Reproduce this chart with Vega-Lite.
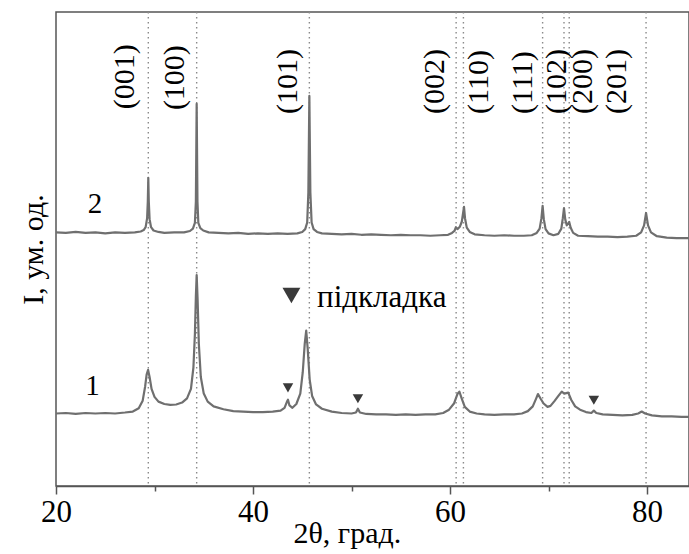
{
  "$schema": "https://vega.github.io/schema/vega-lite/v6.json",
  "autosize": "none",
  "width": 633,
  "height": 474,
  "padding": {"left": 56, "top": 12, "right": 0, "bottom": 68},
  "background": "white",
  "config": {
    "view": {"stroke": "#555", "strokeWidth": 1.5},
    "font": "Liberation Serif"
  },
  "datasets": {
    "scan": [
      {"s": "2", "x": 20.0, "y": 53.5}, {"s": "2", "x": 21.0, "y": 53.4}, {"s": "2", "x": 22.0, "y": 53.6}, {"s": "2", "x": 23.0, "y": 53.4},
      {"s": "2", "x": 24.0, "y": 53.5}, {"s": "2", "x": 25.0, "y": 53.3}, {"s": "2", "x": 26.0, "y": 53.5}, {"s": "2", "x": 27.0, "y": 53.4},
      {"s": "2", "x": 28.0, "y": 53.5}, {"s": "2", "x": 28.6, "y": 53.7}, {"s": "2", "x": 28.9, "y": 54.0}, {"s": "2", "x": 29.1, "y": 54.6},
      {"s": "2", "x": 29.25, "y": 56.5}, {"s": "2", "x": 29.32, "y": 60.0}, {"s": "2", "x": 29.37, "y": 65.0}, {"s": "2", "x": 29.42, "y": 60.0},
      {"s": "2", "x": 29.5, "y": 56.3}, {"s": "2", "x": 29.65, "y": 54.6}, {"s": "2", "x": 29.9, "y": 53.9}, {"s": "2", "x": 30.4, "y": 53.6},
      {"s": "2", "x": 31.0, "y": 53.4}, {"s": "2", "x": 32.0, "y": 53.5}, {"s": "2", "x": 33.0, "y": 53.5}, {"s": "2", "x": 33.6, "y": 53.8},
      {"s": "2", "x": 33.9, "y": 54.3}, {"s": "2", "x": 34.1, "y": 55.5}, {"s": "2", "x": 34.2, "y": 60.0}, {"s": "2", "x": 34.28, "y": 80.6},
      {"s": "2", "x": 34.36, "y": 60.0}, {"s": "2", "x": 34.45, "y": 55.5}, {"s": "2", "x": 34.65, "y": 54.4}, {"s": "2", "x": 34.95, "y": 53.9},
      {"s": "2", "x": 35.5, "y": 53.5}, {"s": "2", "x": 36.5, "y": 53.4}, {"s": "2", "x": 37.5, "y": 53.3}, {"s": "2", "x": 38.5, "y": 53.4},
      {"s": "2", "x": 39.5, "y": 53.2}, {"s": "2", "x": 40.5, "y": 53.3}, {"s": "2", "x": 41.5, "y": 53.2}, {"s": "2", "x": 42.5, "y": 53.3},
      {"s": "2", "x": 43.5, "y": 53.2}, {"s": "2", "x": 44.5, "y": 53.3}, {"s": "2", "x": 45.0, "y": 53.6}, {"s": "2", "x": 45.3, "y": 54.2},
      {"s": "2", "x": 45.5, "y": 55.6}, {"s": "2", "x": 45.62, "y": 62.0}, {"s": "2", "x": 45.72, "y": 82.3}, {"s": "2", "x": 45.82, "y": 62.0},
      {"s": "2", "x": 45.95, "y": 55.6}, {"s": "2", "x": 46.15, "y": 54.2}, {"s": "2", "x": 46.5, "y": 53.6}, {"s": "2", "x": 47.0, "y": 53.3},
      {"s": "2", "x": 48.0, "y": 53.2}, {"s": "2", "x": 49.0, "y": 53.1}, {"s": "2", "x": 50.0, "y": 53.2}, {"s": "2", "x": 51.0, "y": 53.0},
      {"s": "2", "x": 52.0, "y": 53.1}, {"s": "2", "x": 53.0, "y": 53.0}, {"s": "2", "x": 54.0, "y": 52.9}, {"s": "2", "x": 55.0, "y": 53.0},
      {"s": "2", "x": 56.0, "y": 52.9}, {"s": "2", "x": 57.0, "y": 52.9}, {"s": "2", "x": 58.0, "y": 52.8}, {"s": "2", "x": 59.0, "y": 52.9},
      {"s": "2", "x": 59.8, "y": 53.0}, {"s": "2", "x": 60.2, "y": 53.4}, {"s": "2", "x": 60.45, "y": 53.8}, {"s": "2", "x": 60.6, "y": 54.6},
      {"s": "2", "x": 60.75, "y": 54.2}, {"s": "2", "x": 61.0, "y": 54.7}, {"s": "2", "x": 61.2, "y": 55.8}, {"s": "2", "x": 61.32, "y": 57.5},
      {"s": "2", "x": 61.42, "y": 58.9}, {"s": "2", "x": 61.52, "y": 56.5}, {"s": "2", "x": 61.7, "y": 54.5}, {"s": "2", "x": 62.0, "y": 53.6},
      {"s": "2", "x": 62.5, "y": 53.1}, {"s": "2", "x": 63.5, "y": 52.9}, {"s": "2", "x": 64.5, "y": 52.8}, {"s": "2", "x": 65.5, "y": 52.9},
      {"s": "2", "x": 66.5, "y": 52.8}, {"s": "2", "x": 67.5, "y": 52.8}, {"s": "2", "x": 68.3, "y": 52.9}, {"s": "2", "x": 68.8, "y": 53.4},
      {"s": "2", "x": 69.1, "y": 54.3}, {"s": "2", "x": 69.28, "y": 56.5}, {"s": "2", "x": 69.4, "y": 59.1}, {"s": "2", "x": 69.52, "y": 56.3},
      {"s": "2", "x": 69.7, "y": 54.2}, {"s": "2", "x": 70.0, "y": 53.3}, {"s": "2", "x": 70.5, "y": 52.9}, {"s": "2", "x": 71.0, "y": 53.2},
      {"s": "2", "x": 71.3, "y": 54.3}, {"s": "2", "x": 71.45, "y": 56.5}, {"s": "2", "x": 71.57, "y": 58.6}, {"s": "2", "x": 71.7, "y": 56.2},
      {"s": "2", "x": 71.85, "y": 55.0}, {"s": "2", "x": 72.0, "y": 55.4}, {"s": "2", "x": 72.1, "y": 55.7}, {"s": "2", "x": 72.25, "y": 54.5},
      {"s": "2", "x": 72.5, "y": 53.4}, {"s": "2", "x": 73.0, "y": 52.8}, {"s": "2", "x": 74.0, "y": 52.7}, {"s": "2", "x": 75.0, "y": 52.6},
      {"s": "2", "x": 76.0, "y": 52.6}, {"s": "2", "x": 77.0, "y": 52.5}, {"s": "2", "x": 78.0, "y": 52.6}, {"s": "2", "x": 78.9, "y": 52.8},
      {"s": "2", "x": 79.4, "y": 53.5}, {"s": "2", "x": 79.7, "y": 55.0}, {"s": "2", "x": 79.9, "y": 57.6}, {"s": "2", "x": 80.1, "y": 55.0},
      {"s": "2", "x": 80.4, "y": 53.5}, {"s": "2", "x": 81.0, "y": 52.7}, {"s": "2", "x": 82.0, "y": 52.4}, {"s": "2", "x": 83.0, "y": 52.3},
      {"s": "2", "x": 84.3, "y": 52.3},

      {"s": "1", "x": 20.0, "y": 15.3}, {"s": "1", "x": 21.0, "y": 15.4}, {"s": "1", "x": 22.0, "y": 15.2}, {"s": "1", "x": 23.0, "y": 15.4},
      {"s": "1", "x": 24.0, "y": 15.3}, {"s": "1", "x": 25.0, "y": 15.4}, {"s": "1", "x": 26.0, "y": 15.3}, {"s": "1", "x": 27.0, "y": 15.5},
      {"s": "1", "x": 27.8, "y": 15.7}, {"s": "1", "x": 28.4, "y": 16.4}, {"s": "1", "x": 28.8, "y": 18.0}, {"s": "1", "x": 29.05, "y": 21.0},
      {"s": "1", "x": 29.2, "y": 23.5}, {"s": "1", "x": 29.35, "y": 24.5}, {"s": "1", "x": 29.5, "y": 23.0}, {"s": "1", "x": 29.7, "y": 20.5},
      {"s": "1", "x": 30.0, "y": 18.8}, {"s": "1", "x": 30.4, "y": 17.8}, {"s": "1", "x": 31.0, "y": 17.3}, {"s": "1", "x": 31.6, "y": 17.1},
      {"s": "1", "x": 32.2, "y": 17.2}, {"s": "1", "x": 32.8, "y": 17.6}, {"s": "1", "x": 33.3, "y": 18.5}, {"s": "1", "x": 33.7, "y": 20.5},
      {"s": "1", "x": 33.95, "y": 25.0}, {"s": "1", "x": 34.1, "y": 32.0}, {"s": "1", "x": 34.2, "y": 40.0}, {"s": "1", "x": 34.28, "y": 44.5},
      {"s": "1", "x": 34.38, "y": 39.0}, {"s": "1", "x": 34.5, "y": 30.0}, {"s": "1", "x": 34.7, "y": 23.0}, {"s": "1", "x": 35.0, "y": 19.5},
      {"s": "1", "x": 35.4, "y": 17.8}, {"s": "1", "x": 36.0, "y": 16.8}, {"s": "1", "x": 37.0, "y": 16.2}, {"s": "1", "x": 38.0, "y": 15.8},
      {"s": "1", "x": 39.0, "y": 15.7}, {"s": "1", "x": 40.0, "y": 15.6}, {"s": "1", "x": 41.0, "y": 15.6}, {"s": "1", "x": 42.0, "y": 15.7},
      {"s": "1", "x": 42.8, "y": 15.9}, {"s": "1", "x": 43.2, "y": 16.5}, {"s": "1", "x": 43.45, "y": 17.8}, {"s": "1", "x": 43.55, "y": 18.2},
      {"s": "1", "x": 43.7, "y": 17.0}, {"s": "1", "x": 44.0, "y": 16.5}, {"s": "1", "x": 44.4, "y": 17.3}, {"s": "1", "x": 44.8, "y": 19.5},
      {"s": "1", "x": 45.05, "y": 24.0}, {"s": "1", "x": 45.25, "y": 30.0}, {"s": "1", "x": 45.4, "y": 32.8}, {"s": "1", "x": 45.55, "y": 29.0},
      {"s": "1", "x": 45.75, "y": 22.5}, {"s": "1", "x": 46.0, "y": 19.0}, {"s": "1", "x": 46.4, "y": 17.2}, {"s": "1", "x": 47.0, "y": 16.3},
      {"s": "1", "x": 48.0, "y": 15.7}, {"s": "1", "x": 49.0, "y": 15.4}, {"s": "1", "x": 50.0, "y": 15.3}, {"s": "1", "x": 50.45, "y": 15.5},
      {"s": "1", "x": 50.65, "y": 16.3}, {"s": "1", "x": 50.85, "y": 15.5}, {"s": "1", "x": 51.5, "y": 15.2}, {"s": "1", "x": 52.5, "y": 15.1},
      {"s": "1", "x": 53.5, "y": 15.1}, {"s": "1", "x": 54.5, "y": 15.0}, {"s": "1", "x": 55.5, "y": 15.1}, {"s": "1", "x": 56.5, "y": 15.0},
      {"s": "1", "x": 57.5, "y": 15.1}, {"s": "1", "x": 58.5, "y": 15.1}, {"s": "1", "x": 59.3, "y": 15.4}, {"s": "1", "x": 59.9, "y": 16.1},
      {"s": "1", "x": 60.4, "y": 17.4}, {"s": "1", "x": 60.75, "y": 19.4}, {"s": "1", "x": 60.95, "y": 19.9}, {"s": "1", "x": 61.2, "y": 18.4},
      {"s": "1", "x": 61.5, "y": 16.7}, {"s": "1", "x": 62.0, "y": 15.7}, {"s": "1", "x": 62.7, "y": 15.3}, {"s": "1", "x": 63.5, "y": 15.1},
      {"s": "1", "x": 64.5, "y": 15.0}, {"s": "1", "x": 65.5, "y": 15.1}, {"s": "1", "x": 66.5, "y": 15.1}, {"s": "1", "x": 67.3, "y": 15.3},
      {"s": "1", "x": 67.9, "y": 15.8}, {"s": "1", "x": 68.4, "y": 16.8}, {"s": "1", "x": 68.75, "y": 18.5}, {"s": "1", "x": 68.93, "y": 19.4},
      {"s": "1", "x": 69.2, "y": 18.4}, {"s": "1", "x": 69.5, "y": 17.4}, {"s": "1", "x": 69.9, "y": 16.7}, {"s": "1", "x": 70.2, "y": 16.9},
      {"s": "1", "x": 70.6, "y": 17.9}, {"s": "1", "x": 71.0, "y": 19.0}, {"s": "1", "x": 71.34, "y": 19.9}, {"s": "1", "x": 71.6, "y": 19.5},
      {"s": "1", "x": 72.0, "y": 19.7}, {"s": "1", "x": 72.3, "y": 18.2}, {"s": "1", "x": 72.7, "y": 16.8}, {"s": "1", "x": 73.2, "y": 16.1},
      {"s": "1", "x": 73.8, "y": 15.6}, {"s": "1", "x": 74.35, "y": 15.4}, {"s": "1", "x": 74.6, "y": 15.9}, {"s": "1", "x": 74.85, "y": 15.4},
      {"s": "1", "x": 75.5, "y": 15.1}, {"s": "1", "x": 76.5, "y": 15.0}, {"s": "1", "x": 77.5, "y": 14.9}, {"s": "1", "x": 78.5, "y": 15.0},
      {"s": "1", "x": 79.1, "y": 15.3}, {"s": "1", "x": 79.46, "y": 15.7}, {"s": "1", "x": 79.8, "y": 15.3}, {"s": "1", "x": 80.5, "y": 14.9},
      {"s": "1", "x": 81.5, "y": 14.7}, {"s": "1", "x": 82.5, "y": 14.7}, {"s": "1", "x": 83.5, "y": 14.6}, {"s": "1", "x": 84.3, "y": 14.6}
    ],
    "reflections": [
      {"peak": 29.37, "hkl": "(001)", "lx": 27.0, "ly": 79.5},
      {"peak": 34.28, "hkl": "(100)", "lx": 32.1, "ly": 79.3},
      {"peak": 45.72, "hkl": "(101)", "lx": 43.55, "ly": 78.5},
      {"peak": 60.62, "hkl": "(002)", "lx": 58.5, "ly": 78.5},
      {"peak": 61.36, "hkl": "(110)", "lx": 62.9, "ly": 78.5},
      {"peak": 69.4, "hkl": "(111)", "lx": 67.4, "ly": 78.5},
      {"peak": 71.57, "hkl": "(102)", "lx": 70.9, "ly": 78.5},
      {"peak": 72.1, "hkl": "(200)", "lx": 73.5, "ly": 78.5},
      {"peak": 79.9, "hkl": "(201)", "lx": 77.0, "ly": 78.5}
    ],
    "substrate": [
      {"x": 43.55, "y": 20.7},
      {"x": 50.65, "y": 18.4},
      {"x": 74.6, "y": 18.1}
    ],
    "curveNames": [
      {"x": 23.96, "y": 57.6, "name": "2"},
      {"x": 23.7, "y": 19.2, "name": "1"}
    ],
    "key": [
      {"x": 43.9, "y": 40.2, "tx": 46.5, "ty": 37.8, "name": "підкладка"}
    ]
  },
  "encoding": {
    "x": {"type": "quantitative"},
    "y": {"type": "quantitative"}
  },
  "layer": [
    {
      "data": {"name": "reflections"},
      "mark": {"type": "rule", "color": "#8a8a8a", "strokeWidth": 1.4, "strokeDash": [1.5, 3.5]},
      "encoding": {
        "x": {
          "field": "peak", "type": "quantitative",
          "scale": {"domain": [20, 84.26], "nice": false, "zero": false},
          "axis": {
            "values": [20, 30, 40, 50, 60, 70, 80],
            "labelExpr": "datum.value % 20 === 0 ? datum.label : ''",
            "grid": false,
            "domainColor": "#555",
            "domainWidth": 1.5,
            "tickColor": "#555",
            "tickWidth": 1.5,
            "tickSize": {"condition": {"test": "datum.value % 20 === 0", "value": 8}, "value": 5},
            "labelFont": "Liberation Serif",
            "labelFontSize": 31,
            "labelColor": "black",
            "labelPadding": 3,
            "labelFlush": false,
            "title": "2θ, град.",
            "titleFont": "Liberation Serif",
            "titleFontSize": 30,
            "titleFontWeight": "normal",
            "titleColor": "black",
            "titleAnchor": "start",
            "titleX": 237,
            "titleAlign": "left",
            "titlePadding": -9
          }
        }
      }
    },
    {
      "data": {"name": "scan"},
      "mark": {"type": "line", "color": "#6f6f6f", "strokeWidth": 2.2, "strokeJoin": "round"},
      "encoding": {
        "x": {"field": "x", "type": "quantitative"},
        "y": {
          "field": "y", "type": "quantitative",
          "scale": {"domain": [0, 100], "nice": false},
          "axis": {
            "labels": false,
            "ticks": false,
            "grid": false,
            "domain": false,
            "title": "I, ум. од.",
            "titleFont": "Liberation Serif",
            "titleFontSize": 30,
            "titleFontWeight": "normal",
            "titleColor": "black",
            "titlePadding": 8
          }
        },
        "detail": {"field": "s", "type": "nominal"}
      }
    },
    {
      "data": {"name": "reflections"},
      "mark": {"type": "text", "angle": 270, "align": "left", "baseline": "middle", "font": "Liberation Serif", "fontSize": 30, "color": "black"},
      "encoding": {
        "x": {"field": "lx", "type": "quantitative"},
        "y": {"field": "ly", "type": "quantitative"},
        "text": {"field": "hkl"}
      }
    },
    {
      "data": {"name": "substrate"},
      "mark": {"type": "point", "shape": "triangle-down", "filled": true, "color": "#3a3a3a", "size": 110, "opacity": 1},
      "encoding": {
        "x": {"field": "x", "type": "quantitative"},
        "y": {"field": "y", "type": "quantitative"}
      }
    },
    {
      "data": {"name": "key"},
      "mark": {"type": "point", "shape": "triangle-down", "filled": true, "color": "#3a3a3a", "size": 320, "opacity": 1},
      "encoding": {
        "x": {"field": "x", "type": "quantitative"},
        "y": {"field": "y", "type": "quantitative"}
      }
    },
    {
      "data": {"name": "key"},
      "mark": {"type": "text", "align": "left", "baseline": "alphabetic", "font": "Liberation Serif", "fontSize": 31, "color": "black"},
      "encoding": {
        "x": {"field": "tx", "type": "quantitative"},
        "y": {"field": "ty", "type": "quantitative"},
        "text": {"field": "name"}
      }
    },
    {
      "data": {"name": "curveNames"},
      "mark": {"type": "text", "align": "center", "baseline": "alphabetic", "font": "Liberation Serif", "fontSize": 29, "color": "black"},
      "encoding": {
        "x": {"field": "x", "type": "quantitative"},
        "y": {"field": "y", "type": "quantitative"},
        "text": {"field": "name"}
      }
    }
  ]
}
